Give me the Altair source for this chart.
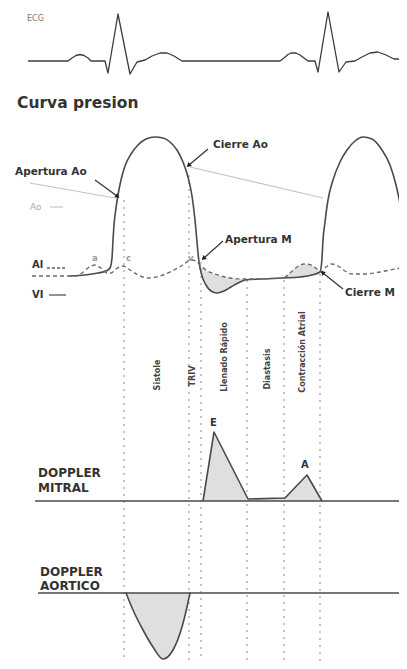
import math
import altair as alt
import pandas as pd

# ---------------- data (image-like coordinates: x right, y down) ----------------
ECG_X = [28, 68, 72, 76, 80, 84, 88, 91, 105, 108, 118, 130, 137, 145, 152, 160, 167, 174, 182,
         280, 284, 288, 291, 296, 300, 304, 308, 315, 318, 328, 339, 346, 355, 362, 370, 378, 386, 394, 405]
ECG_Y = [61, 61, 58, 55.5, 54.5, 55.5, 58, 61, 61, 73, 14, 74, 62, 60, 56, 53, 53, 56, 61,
         61, 58, 54.5, 53, 53, 55, 58, 61, 61, 72, 12, 72, 62, 61, 57, 53, 52, 55, 59, 59]

LV_X = [70, 85, 98, 106, 110, 112, 113, 114, 116, 118, 121, 125, 131, 138, 146, 155, 163, 170, 177, 183,
        188, 192, 195, 197, 199, 202, 206, 211, 217, 224, 231, 238, 245, 260, 283, 300, 312, 320,
        322, 323, 325, 328, 333, 340, 347, 355, 363, 372, 382, 390, 396, 401, 404, 406]
LV_Y = [276, 275, 273, 271, 268, 258, 240, 225, 208, 195, 180, 166, 154, 145, 139, 137, 138, 142, 150, 162,
        177, 196, 220, 242, 262, 276, 285, 291, 293, 291, 287, 283, 280, 279, 278, 277, 275, 272,
        258, 240, 222, 200, 180, 162, 150, 141, 137, 139, 150, 165, 185, 210, 235, 265]

LA_X = [32, 76, 82, 88, 95, 101, 107, 111, 116, 123, 130, 138, 148, 160, 172, 183, 191, 196, 200, 206,
        212, 221, 230, 245, 283, 290, 297, 304, 311, 317, 321, 326, 332, 338, 345, 352, 365, 380, 395, 407]
LA_Y = [276, 276, 273, 268, 265, 268, 273, 273, 269, 266, 270, 275, 278, 276, 271, 265, 260, 261, 265, 270,
        273, 276, 278, 279, 278, 273, 267, 264, 265, 269, 272, 267, 264, 266, 271, 274, 274, 272, 269, 267]

# shaded zones between atrial and ventricular pressure
FILL1_X = [199, 203, 207, 211, 217, 224, 231, 238, 245]
FILL1_TOP = [263, 268, 271, 273, 275, 277, 278, 279, 279]
FILL1_BOT = [262, 278, 286, 291, 293, 291, 287, 283, 280]
FILL2_X = [283, 290, 297, 304, 311, 317, 321]
FILL2_TOP = [278, 273, 267, 264, 265, 269, 272]
FILL2_BOT = [278, 277.5, 277, 276.5, 275.5, 273.5, 272]

# mitral doppler (E and A waves) and aortic doppler
MITRAL_BASE = 501
MITRAL_X = [203, 214, 248, 285, 307, 322]
MITRAL_Y = [501, 432, 499, 498, 475, 501]
AORTIC_BASE = 593
AORTIC_X = [126, 133, 143, 153, 163, 173, 182, 187, 190]
AORTIC_Y = [593, 610, 630, 647, 659, 650, 627, 607, 593]

# phase boundaries (dotted verticals)
PHASE_X = [124, 189, 201, 247, 284, 320]
PHASE_TOP = [200, 175, 262, 280, 280, 274]
PHASE_BOTTOM = 663
PHASE_LABELS = ["Sistole", "TRIV", "Llenado Rápido", "Diastasis", "Contracción Atrial"]
PHASE_LABEL_X = [158, 193, 225, 268, 303]
PHASE_LABEL_Y = [375, 376, 357, 369, 352]

# faint aortic pressure decay lines
GRAY_X1 = [30, 190]
GRAY_Y1 = [183, 167]
GRAY_X2 = [115, 323]
GRAY_Y2 = [198, 198]

# annotations with arrows
ANN_TEXT = ["Apertura Ao", "Cierre Ao", "Apertura M", "Cierre M"]
ANN_X = [15, 213, 225, 345]
ANN_Y = [172, 145, 240, 293]
ARROW_X1 = [95, 208, 223, 343]
ARROW_Y1 = [180, 149, 241, 289]
ARROW_X2 = [117, 189, 204, 323]
ARROW_Y2 = [196, 165, 258, 273]

# ---------------- helpers ----------------
XS = alt.Scale(domain=[8, 399], nice=False, zero=False)
YS = alt.Scale(domain=[8, 661], nice=False, zero=False, reverse=True)


def enc_xy(xf="x", yf="y"):
    return dict(x=alt.X(f"{xf}:Q", scale=XS, axis=None),
                y=alt.Y(f"{yf}:Q", scale=YS, axis=None))


def line(xs, ys, color="#4a4a4a", width=1.5, dash=None):
    df = pd.DataFrame({"x": xs, "y": ys, "i": list(range(len(xs)))})
    kw = dict(color=color, strokeWidth=width, strokeJoin="round", strokeCap="round", interpolate="monotone")
    if dash:
        kw["strokeDash"] = dash
        kw["strokeCap"] = "butt"
    return alt.Chart(df).mark_line(**kw).encode(order=alt.Order("i:Q"), **enc_xy())


def linear(xs, ys, color="#4a4a4a", width=1.5):
    df = pd.DataFrame({"x": xs, "y": ys, "i": list(range(len(xs)))})
    return alt.Chart(df).mark_line(color=color, strokeWidth=width, strokeJoin="round").encode(
        order=alt.Order("i:Q"), **enc_xy())


def area(xs, top, bot, interp="monotone"):
    df = pd.DataFrame({"x": xs, "y": top, "y2": bot})
    return alt.Chart(df).mark_area(color="#dcdcdc", opacity=0.9, interpolate=interp).encode(
        x=alt.X("x:Q", scale=XS, axis=None), y=alt.Y("y:Q", scale=YS, axis=None), y2="y2:Q")


def rules(x1, y1, x2, y2, color, width=1.0, dash=None):
    df = pd.DataFrame({"x": x1, "y": y1, "x2": x2, "y2": y2})
    kw = dict(color=color, strokeWidth=width)
    if dash:
        kw["strokeDash"] = dash
    return alt.Chart(df).mark_rule(**kw).encode(
        x=alt.X("x:Q", scale=XS, axis=None), y=alt.Y("y:Q", scale=YS, axis=None), x2="x2:Q", y2="y2:Q")


def texts(labels, xs, ys, size, color="#333", weight="normal", font="DejaVu Sans", angle=0, align="left"):
    df = pd.DataFrame({"t": labels, "x": xs, "y": ys})
    return alt.Chart(df).mark_text(fontSize=size, color=color, fontWeight=weight, font=font,
                                   angle=angle, align=align, baseline="middle").encode(
        text="t:N", **enc_xy())


layers = []

# ECG
layers.append(linear(ECG_X, ECG_Y, color="#3c3c3c", width=1.3))
layers.append(texts(["ECG"], [27], [19], 8, color="#777"))
layers.append(texts(["Curva presion"], [17], [103], 15.5, color="#333", weight="bold"))

# shaded areas
layers.append(area(FILL1_X, FILL1_TOP, FILL1_BOT))
layers.append(area(FILL2_X, FILL2_TOP, FILL2_BOT))

# faint aortic lines
layers.append(rules(GRAY_X1, GRAY_Y1, GRAY_X2, GRAY_Y2, color="#c4c4c4", width=1.2))

# phase dotted lines
layers.append(rules(PHASE_X, PHASE_TOP, PHASE_X, [PHASE_BOTTOM] * len(PHASE_X), color="#8a8a8a",
                    width=1.0, dash=[2, 5]))

# pressure curves
layers.append(line(LV_X, LV_Y, color="#4a4a4a", width=1.6))
layers.append(line(LA_X, LA_Y, color="#6a6a6a", width=1.4, dash=[4, 3]))

# legend-ish labels
layers.append(texts(["Ao"], [30], [207], 9, color="#aaa"))
layers.append(rules([50], [207], [63], [207], color="#bbb", width=1))
layers.append(texts(["Al"], [32], [265], 10, color="#333", weight="bold"))
layers.append(rules([47], [268], [66], [268], color="#666", width=1.3, dash=[3, 2]))
layers.append(texts(["VI"], [32], [295], 10, color="#333", weight="bold"))
layers.append(rules([49], [295], [66], [295], color="#555", width=1.3))
layers.append(texts(["a", "c", "v"], [92, 126, 188], [258, 258, 258], 8.5, color="#999", weight="bold"))

# annotations and arrows
layers.append(texts(ANN_TEXT, ANN_X, ANN_Y, 10.5, color="#333", weight="bold"))
layers.append(rules(ARROW_X1, ARROW_Y1, ARROW_X2, ARROW_Y2, color="#333", width=1.2))
ang = [(math.degrees(math.atan2(x2 - x1, -(y2 - y1))) + 360) % 360
       for x1, y1, x2, y2 in zip(ARROW_X1, ARROW_Y1, ARROW_X2, ARROW_Y2)]
adf = pd.DataFrame({"x": ARROW_X2, "y": ARROW_Y2, "a": ang})
layers.append(alt.Chart(adf).mark_point(shape="triangle", filled=True, size=28, color="#222", opacity=1).encode(
    angle=alt.Angle("a:Q", scale=None), **enc_xy()))

# phase labels
layers.append(texts(PHASE_LABELS, PHASE_LABEL_X, PHASE_LABEL_Y, 8, color="#444", weight="bold",
                    angle=270, align="center"))

# Doppler mitral
layers.append(area(MITRAL_X, MITRAL_Y, [MITRAL_BASE] * len(MITRAL_X), interp="linear"))
layers.append(rules([35], [MITRAL_BASE], [407], [MITRAL_BASE], color="#4a4a4a", width=1.4))
layers.append(linear(MITRAL_X, MITRAL_Y, color="#4a4a4a", width=1.6))
layers.append(texts(["DOPPLER", "MITRAL"], [38, 38], [473, 488], 12, color="#333", weight="bold"))
layers.append(texts(["E", "A"], [210, 301], [423, 465], 10, color="#333", weight="bold"))

# Doppler aortic
layers.append(area(AORTIC_X, AORTIC_Y, [AORTIC_BASE] * len(AORTIC_X)))
layers.append(rules([38], [AORTIC_BASE], [407], [AORTIC_BASE], color="#4a4a4a", width=1.4))
layers.append(line(AORTIC_X, AORTIC_Y, color="#4a4a4a", width=1.6))
layers.append(texts(["DOPPLER", "AORTICO"], [40, 40], [572, 586], 12, color="#333", weight="bold"))

chart = alt.layer(*layers).properties(
    width=391, height=653, padding=0,
    autosize=alt.AutoSizeParams(type="none"),
    background="white",
).configure_view(stroke=None)

chart.save("out.html", embed_options={"renderer": "svg", "actions": False})
